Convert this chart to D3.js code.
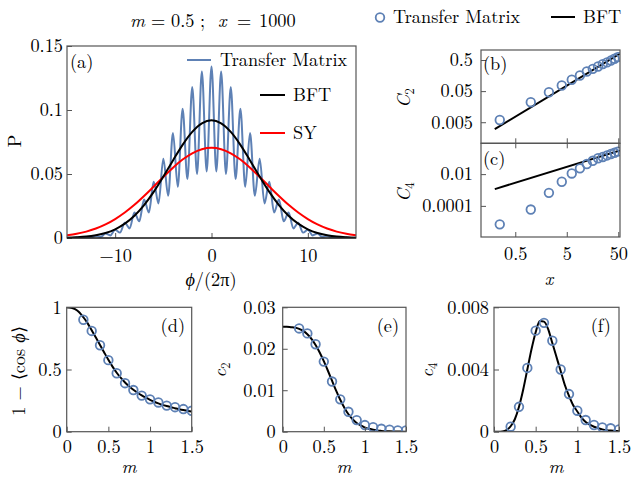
<!DOCTYPE html>
<html><head><meta charset="utf-8">
<script src="https://cdn.jsdelivr.net/npm/d3@7"></script>
<style>
body{margin:0;background:#fff;}
</style></head><body>
<svg id="c" width="632" height="483"></svg>
<script>
// ---------- DATA ----------
// panel (a)
const phiTicks=[-10,0,10];
const pTicks=[0,0.05,0.1,0.15];
const tmPhi=[-15,-14.5,-14,-13.5,-13,-12.5,-12,-11.5,-11,-10.5,-10,-9.5,-9,-8.5,-8,-7.5,-7,-6.5,-6,-5.5,-5,-4.5,-4,-3.5,-3,-2.5,-2,-1.5,-1,-0.5,0,0.5,1,1.5,2,2.5,3,3.5,4,4.5,5,5.5,6,6.5,7,7.5,8,8.5,9,9.5,10,10.5,11,11.5,12,12.5,13,13.5,14,14.5,15];
const tmP=[0.0001,0.00005,0.0003,0.0001,0.0008,0.0004,0.0017,0.0009,0.0035,0.002,0.0065,0.0042,0.012,0.0075,0.020,0.013,0.030,0.020,0.044,0.027,0.062,0.033,0.082,0.040,0.101,0.046,0.118,0.050,0.130,0.052,0.134,0.052,0.130,0.050,0.118,0.046,0.101,0.040,0.082,0.033,0.062,0.027,0.044,0.020,0.030,0.013,0.020,0.0075,0.012,0.0042,0.0065,0.002,0.0035,0.0009,0.0017,0.0004,0.0008,0.0001,0.0003,0.00005,0.0001];
const gPhi=[-15,-14,-13,-12,-11,-10,-9,-8,-7,-6,-5,-4,-3,-2,-1,0,1,2,3,4,5,6,7,8,9,10,11,12,13,14,15];
const bftP=[0.00026,0.00056,0.0011,0.0022,0.0039,0.0068,0.0112,0.0174,0.0257,0.0360,0.0480,0.0606,0.0728,0.0829,0.0896,0.0920,0.0896,0.0829,0.0728,0.0606,0.0480,0.0360,0.0257,0.0174,0.0112,0.0068,0.0039,0.0022,0.0011,0.00056,0.00026];
const syP=[0.0021,0.0033,0.0050,0.0074,0.0106,0.0148,0.0199,0.0259,0.0328,0.0402,0.0477,0.0549,0.0613,0.0662,0.0694,0.0705,0.0694,0.0662,0.0613,0.0549,0.0477,0.0402,0.0328,0.0259,0.0199,0.0148,0.0106,0.0074,0.0050,0.0033,0.0021];
// panels (b),(c)
const xVals=[0.25,1,2.25,4,6.25,9,12.25,16,20.25,25,30.25,36,42.25,49];
const c2TM=[0.0059,0.022,0.046,0.076,0.116,0.159,0.214,0.26,0.31,0.37,0.42,0.48,0.55,0.62];
const c4TM=[6.9e-6,5.9e-5,6.6e-4,0.0033,0.011,0.023,0.043,0.069,0.1,0.12,0.15,0.185,0.22,0.26];
const bftX=[0.2,54];
const c2BFT=[0.003,0.81];
const c4BFT=[0.00114,0.31];
const xLogTicks=[0.5,5,50];
const c2Ticks=[0.005,0.05,0.5];
const c4Ticks=[0.0001,0.01];
// panels (d),(e),(f)
const mTM=[0.2,0.3,0.4,0.5,0.6,0.7,0.8,0.9,1.0,1.1,1.2,1.3,1.4,1.5];
const cosTM=[0.90,0.81,0.695,0.575,0.47,0.39,0.335,0.29,0.26,0.235,0.21,0.197,0.182,0.168];
const c2mTM=[0.0249,0.0237,0.0211,0.0169,0.0121,0.0078,0.0048,0.0028,0.0016,0.0011,0.0007,0.0005,0.0003,0.0003];
const c4mTM=[0.00032,0.0016,0.0041,0.0065,0.0070,0.00585,0.0040,0.00242,0.00135,0.00075,0.00043,0.00028,0.00022,0.00015];
const mLine=[0,0.05,0.1,0.15,0.2,0.25,0.3,0.35,0.4,0.45,0.5,0.55,0.6,0.65,0.7,0.75,0.8,0.85,0.9,0.95,1.0,1.05,1.1,1.15,1.2,1.25,1.3,1.35,1.4,1.45,1.5];
const cosLine=[1.0,0.997,0.985,0.96,0.92,0.873,0.815,0.757,0.697,0.637,0.578,0.523,0.474,0.432,0.396,0.364,0.337,0.313,0.292,0.273,0.256,0.241,0.228,0.216,0.206,0.197,0.189,0.181,0.174,0.168,0.162];
const c2mLine=[0.0253,0.0253,0.0252,0.0251,0.0248,0.0243,0.0235,0.0224,0.0209,0.0191,0.0170,0.0147,0.0123,0.0099,0.0077,0.0058,0.0042,0.0030,0.0021,0.0015,0.0010,0.0007,0.00045,0.0003,0.0002,0.00012,0.00008,0.00005,0.00003,0.00002,0.00001];
const c4mLine=[0,0,0.00002,0.0001,0.00035,0.0008,0.0016,0.0027,0.0040,0.0053,0.0064,0.00712,0.00708,0.0066,0.0057,0.0048,0.0039,0.0030,0.0023,0.0017,0.0013,0.0009,0.00062,0.00045,0.00032,0.00022,0.00015,0.0001,0.00007,0.00005,0.00003];
const mTicks=[0,0.5,1,1.5];
const dTicks=[0,0.5,1];
const eTicks=[0,0.01,0.02,0.03];
const fTicks=[0,0.004,0.008];

// ---------- FONT PICK ----------
function hasFont(f){
  const c=document.createElement("canvas").getContext("2d");
  const s="Transfer Matrix 0.15 mwxyz";
  let same=true;
  ["monospace","sans-serif","serif"].forEach(b=>{
    c.font="40px "+b; const w1=c.measureText(s).width;
    c.font="40px '"+f+"', "+b; const w2=c.measureText(s).width;
    if(Math.abs(w1-w2)>0.5) same=false;
  });
  return !same;
}
const LM=hasFont("Latin Modern Roman");
const FONT=LM?"'Latin Modern Roman','Liberation Serif',serif":"'Liberation Serif','DejaVu Serif',serif";
const FS=LM?18.3:18.5;
d3.select("head").append("style").text("svg text{font-family:"+FONT+";fill:#000;}");

// ---------- DRAW ----------
const BLUE="#5E81B5", RED="#FF0000", FRAME="#555";
const svg=d3.select("#c");
const defs=svg.append("defs");
const fmt=d=>d<0?"\u2212"+String(-d):String(d);
let clipId=0;

function panel(o){
  const g=svg.append("g");
  const id="clip"+(clipId++);
  defs.append("clipPath").attr("id",id).append("rect")
    .attr("x",o.x0).attr("y",o.y1).attr("width",o.x1-o.x0).attr("height",o.y0-o.y1);
  const x=(o.xlog?d3.scaleLog():d3.scaleLinear()).domain(o.xd).range([o.x0,o.x1]);
  const y=(o.ylog?d3.scaleLog():d3.scaleLinear()).domain(o.yd).range([o.y0,o.y1]);
  const body=g.append("g").attr("clip-path","url(#"+id+")");
  const ax=d3.axisBottom(x).tickValues(o.xt).tickSize(-5).tickPadding(o.xpad||11)
     .tickFormat(o.xlabels===false?()=>"":fmt);
  g.append("g").attr("transform","translate(0,"+o.y0+")").call(ax);
  const ay=d3.axisLeft(y).tickValues(o.yt).tickSize(-5).tickPadding(o.ypad||5).tickFormat(fmt);
  g.append("g").attr("transform","translate("+o.x0+",0)").call(ay);
  if(o.topTicks){
    g.append("g").attr("transform","translate(0,"+o.y1+")")
     .call(d3.axisTop(x).tickValues(o.topTicks).tickSize(-5).tickFormat(()=>""));
  }
  g.selectAll(".domain").remove();
  g.selectAll(".tick line").attr("stroke",FRAME).attr("stroke-width",1);
  g.selectAll(".tick text").attr("font-size",FS).attr("fill","#000");
  g.append("rect").attr("x",o.x0).attr("y",o.y1).attr("width",o.x1-o.x0).attr("height",o.y0-o.y1)
    .attr("fill","none").attr("stroke",FRAME).attr("stroke-width",1.2);
  return {g,body,x,y};
}

function lineOf(p,xs,ys,color,w,curve){
  const data=xs.map((v,i)=>[v,ys[i]]);
  p.body.append("path").datum(data)
    .attr("d",d3.line().x(d=>p.x(d[0])).y(d=>p.y(d[1])).curve(curve||d3.curveMonotoneX))
    .attr("fill","none").attr("stroke",color).attr("stroke-width",w);
}
function circlesOf(p,xs,ys){
  p.body.selectAll(null).data(xs.map((v,i)=>[v,ys[i]])).enter().append("circle")
    .attr("cx",d=>p.x(d[0])).attr("cy",d=>p.y(d[1])).attr("r",4.3)
    .attr("fill","none").attr("stroke",BLUE).attr("stroke-width",1.8);
}
function txt(x,y,parts,opts){
  opts=opts||{};
  const t=svg.append("text").attr("x",x).attr("y",y).attr("font-size",opts.size||FS)
    .attr("text-anchor",opts.anchor||"start");
  if(opts.rot) t.attr("transform","rotate(-90,"+x+","+y+")");
  if(opts.len && !LM) t.attr("textLength",opts.len).attr("lengthAdjust","spacing");
  parts.forEach(p=>{
    if(typeof p==="string"){t.append("tspan").text(p);}
    else{
      const s=t.append("tspan").text(p.t);
      if(p.i) s.attr("font-style","italic");
      if(p.size) s.attr("font-size",p.size);
      if(p.dy!==undefined) s.attr("dy",p.dy);
    }
  });
  return t;
}

// ----- panel (a)
const A=panel({x0:67,x1:356,y0:238,y1:46,xd:[-15,15],yd:[0,0.15],xt:phiTicks,yt:pTicks,xpad:11.5,ypad:4});
lineOf(A,tmPhi,tmP,BLUE,2);
lineOf(A,gPhi,syP,RED,2);
lineOf(A,gPhi,bftP,"#000",2);
A.g.append("line").attr("x1",67).attr("x2",356).attr("y1",238).attr("y2",238).attr("stroke","#000").attr("stroke-width",1.2);
txt(70,68,["(a)"]);
svg.append("line").attr("x1",187).attr("x2",211).attr("y1",60).attr("y2",60).attr("stroke",BLUE).attr("stroke-width",2);
txt(220,66,["Transfer Matrix"],{len:127});
svg.append("line").attr("x1",260).attr("x2",285).attr("y1",95).attr("y2",95).attr("stroke","#000").attr("stroke-width",2);
txt(293,101,["BFT"]);
svg.append("line").attr("x1",260).attr("x2",285).attr("y1",133).attr("y2",133).attr("stroke",RED).attr("stroke-width",2);
txt(293,139,["SY"]);
// title, laid out with math spacing
txt(130,27,[{t:"m",i:true}]);
txt(151,27,["="]);
txt(171,27,["0.5"]);
txt(200,27,[";"]);
txt(218,27,[{t:"x",i:true}]);
txt(237,27,["="]);
txt(259,27,["1000"]);
txt(21,141,["P"],{anchor:"middle",rot:true});
txt(211,286,[{t:"\u03D5",i:true},"/(2\u03C0)"],{anchor:"middle"});

// ----- panels (b),(c)
const B=panel({x0:481,x1:620,y0:143.3,y1:50,xlog:true,ylog:true,xd:[0.108,54],yd:[0.00105,1.05],
  xt:xLogTicks,yt:c2Ticks,xlabels:false,ypad:8});
lineOf(B,bftX,c2BFT,"#000",2,d3.curveLinear);
circlesOf(B,xVals,c2TM);
txt(483,70,["(b)"]);
const C=panel({x0:481,x1:620,y0:237,y1:143.3,xlog:true,ylog:true,xd:[0.108,54],yd:[1.1e-6,0.87],
  xt:xLogTicks,yt:c4Ticks,topTicks:xLogTicks,xpad:10,ypad:8});
lineOf(C,bftX,c4BFT,"#000",2,d3.curveLinear);
circlesOf(C,xVals,c4TM);
txt(483,165,["(c)"]);
txt(410,98,[{t:"C",i:true},{t:"2",size:13,dy:4}],{anchor:"middle",rot:true});
txt(410,192,[{t:"C",i:true},{t:"4",size:13,dy:4}],{anchor:"middle",rot:true});
txt(549,285,[{t:"x",i:true}],{anchor:"middle"});
svg.append("circle").attr("cx",380).attr("cy",17.5).attr("r",4.3).attr("fill","none").attr("stroke",BLUE).attr("stroke-width",1.8);
txt(393,23,["Transfer Matrix"],{len:129});
svg.append("line").attr("x1",551).attr("x2",575).attr("y1",17).attr("y2",17).attr("stroke","#000").attr("stroke-width",2);
txt(583,23,["BFT"]);

// ----- panel (d)
const D=panel({x0:66.7,x1:191.7,y0:431.7,y1:307.3,xd:[0,1.5],yd:[0,1],xt:mTicks,yt:dTicks,xpad:8.5,ypad:5});
lineOf(D,mLine,cosLine,"#000",2);
circlesOf(D,mTM,cosTM);
txt(185,332,["(d)"],{anchor:"end"});
txt(25,371,["1 \u2212 \u27E8cos ",{t:"\u03D5",i:true},"\u27E9"],{anchor:"middle",rot:true});
txt(129,473,[{t:"m",i:true}],{anchor:"middle"});

// ----- panel (e)
const E=panel({x0:282.7,x1:406,y0:431.7,y1:307.3,xd:[0,1.5],yd:[0,0.03],xt:mTicks,yt:eTicks,xpad:8.5,ypad:7});
lineOf(E,mLine,c2mLine,"#000",2);
circlesOf(E,mTM,c2mTM);
txt(399,332,["(e)"],{anchor:"end"});
txt(226,370,[{t:"c",i:true},{t:"2",size:13,dy:4}],{anchor:"middle",rot:true});
txt(344,473,[{t:"m",i:true}],{anchor:"middle"});

// ----- panel (f)
const F=panel({x0:494,x1:619,y0:431.7,y1:307.3,xd:[0,1.5],yd:[0,0.008],xt:mTicks,yt:fTicks,xpad:8.5,ypad:5});
lineOf(F,mLine,c4mLine,"#000",2);
circlesOf(F,mTM,c4mTM);
txt(611,332,["(f)"],{anchor:"end"});
txt(433,370,[{t:"c",i:true},{t:"4",size:13,dy:4}],{anchor:"middle",rot:true});
txt(556,473,[{t:"m",i:true}],{anchor:"middle"});
</script>
</body></html>
